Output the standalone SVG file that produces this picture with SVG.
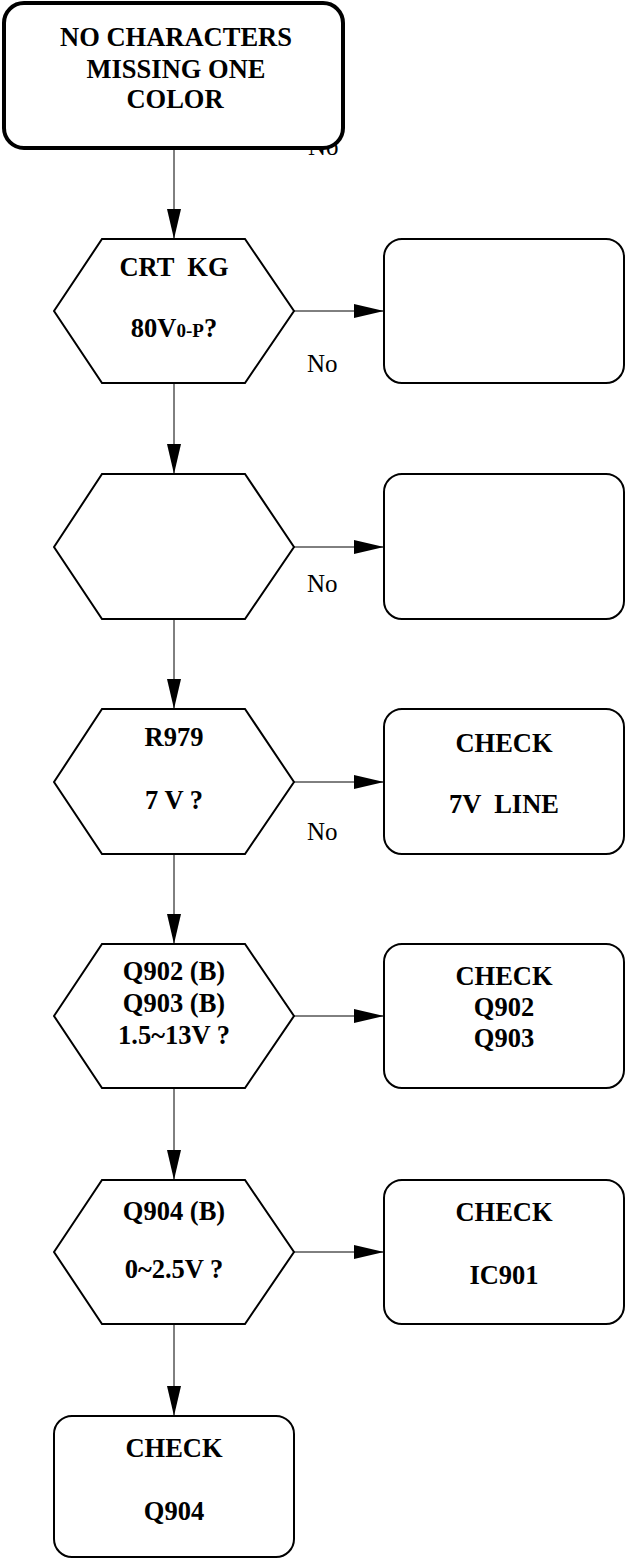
<svg xmlns="http://www.w3.org/2000/svg" width="626" height="1559" viewBox="0 0 626 1559">
<style>
.bg{fill:#fff}
.shape{fill:#fff;stroke:#000;stroke-width:2}
.start{fill:#fff;stroke:#000;stroke-width:4}
.t{font-family:"Liberation Serif","Times New Roman",serif;font-weight:bold;font-size:26.5px;fill:#000;text-anchor:middle;white-space:pre}
.sub{font-size:19px}
.no{font-family:"Liberation Serif","Times New Roman",serif;font-size:25px;fill:#000}
.c{fill:none;stroke:#000;stroke-width:1}
</style>
<defs>
<marker id="ah" markerUnits="userSpaceOnUse" markerWidth="30" markerHeight="14" refX="30" refY="7" orient="auto">
<path d="M0,0 L30,7 L0,14 z" fill="#000"/>
</marker>
</defs>
<rect class="bg" x="0" y="0" width="626" height="1559"/>
<text class="no" x="308" y="155">No</text>
<g id="connectors">
<line class="c" x1="174" y1="148" x2="174" y2="239" marker-end="url(#ah)"/>
<line class="c" x1="174" y1="383" x2="174" y2="474" marker-end="url(#ah)"/>
<line class="c" x1="174" y1="619" x2="174" y2="709" marker-end="url(#ah)"/>
<line class="c" x1="174" y1="854" x2="174" y2="944" marker-end="url(#ah)"/>
<line class="c" x1="174" y1="1088" x2="174" y2="1180" marker-end="url(#ah)"/>
<line class="c" x1="174" y1="1324" x2="174" y2="1416" marker-end="url(#ah)"/>
<line class="c" x1="294" y1="311" x2="384" y2="311" marker-end="url(#ah)"/>
<line class="c" x1="294" y1="547" x2="384" y2="547" marker-end="url(#ah)"/>
<line class="c" x1="294" y1="782" x2="384" y2="782" marker-end="url(#ah)"/>
<line class="c" x1="294" y1="1016" x2="384" y2="1016" marker-end="url(#ah)"/>
<line class="c" x1="294" y1="1252" x2="384" y2="1252" marker-end="url(#ah)"/>
<text class="no" x="307" y="372">No</text>
<text class="no" x="307" y="592">No</text>
<text class="no" x="307" y="840">No</text>
</g>
<g id="start">
<rect class="start" x="4" y="3" width="339" height="145" rx="20"/>
<text class="t" x="176" y="46">NO CHARACTERS</text>
<text class="t" x="176" y="78">MISSING ONE</text>
<text class="t" x="175" y="108">COLOR</text>
</g>
<g id="hex1">
<polygon class="shape" points="54,311 102,239 245,239 294,311 245,383 102,383"/>
<text class="t" x="174" y="276" xml:space="preserve">CRT  KG</text>
<text class="t" x="174" y="337">80V<tspan class="sub">0-P</tspan>?</text>
</g>
<g id="box1">
<rect class="shape" x="384" y="239" width="240" height="144" rx="18"/>
</g>
<g id="hex2">
<polygon class="shape" points="54,547 102,474 245,474 294,547 245,619 102,619"/>
</g>
<g id="box2">
<rect class="shape" x="384" y="474" width="240" height="145" rx="18"/>
</g>
<g id="hex3">
<polygon class="shape" points="54,782 102,709 245,709 294,782 245,854 102,854"/>
<text class="t" x="174" y="746">R979</text>
<text class="t" x="174" y="809">7 V ?</text>
</g>
<g id="box3">
<rect class="shape" x="384" y="709" width="240" height="145" rx="18"/>
<text class="t" x="504" y="752">CHECK</text>
<text class="t" x="504" y="813" xml:space="preserve">7V  LINE</text>
</g>
<g id="hex4">
<polygon class="shape" points="54,1016 102,944 245,944 294,1016 245,1088 102,1088"/>
<text class="t" x="174" y="980">Q902 (B)</text>
<text class="t" x="174" y="1012">Q903 (B)</text>
<text class="t" x="174" y="1044">1.5~13V ?</text>
</g>
<g id="box4">
<rect class="shape" x="384" y="944" width="240" height="144" rx="18"/>
<text class="t" x="504" y="985">CHECK</text>
<text class="t" x="504" y="1016">Q902</text>
<text class="t" x="504" y="1047">Q903</text>
</g>
<g id="hex5">
<polygon class="shape" points="54,1252 102,1180 245,1180 294,1252 245,1324 102,1324"/>
<text class="t" x="174" y="1220">Q904 (B)</text>
<text class="t" x="174" y="1278">0~2.5V ?</text>
</g>
<g id="box5">
<rect class="shape" x="384" y="1180" width="240" height="144" rx="18"/>
<text class="t" x="504" y="1221">CHECK</text>
<text class="t" x="504" y="1284">IC901</text>
</g>
<g id="final">
<rect class="shape" x="54" y="1416" width="240" height="141" rx="18"/>
<text class="t" x="174" y="1457">CHECK</text>
<text class="t" x="174" y="1520">Q904</text>
</g>
</svg>
